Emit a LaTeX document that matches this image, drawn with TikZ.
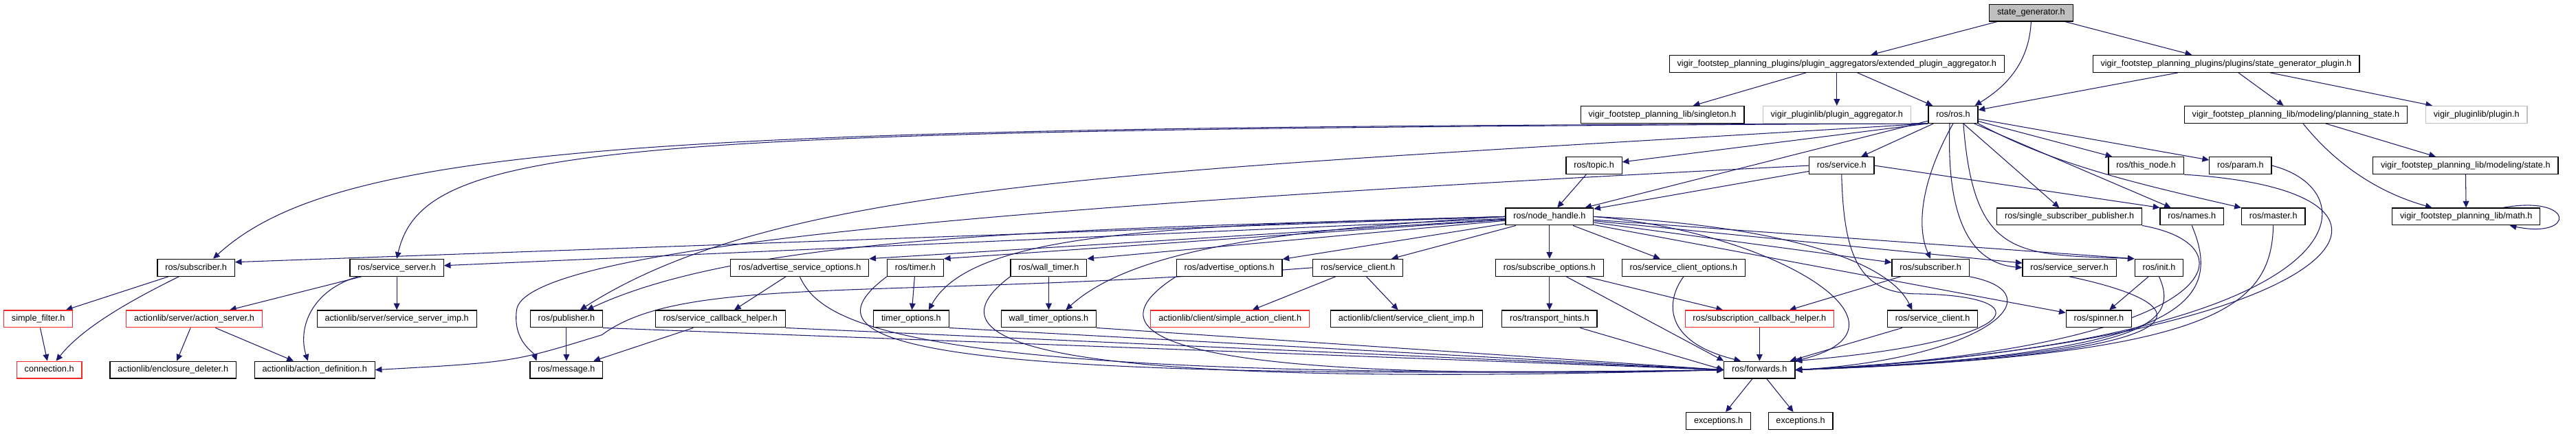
\documentclass[tikz,border=0pt]{standalone}
\usepackage{fontspec}
\setmainfont{Liberation Sans}
\usetikzlibrary{arrows.meta,backgrounds}

\definecolor{inclblue}{RGB}{25,25,112}
\definecolor{truncred}{RGB}{240,40,40}
\definecolor{extgray}{RGB}{191,191,191}

\tikzset{
    hdr/.style={draw, fill=white, line width=0.7pt, rectangle, minimum height=0.5cm,
        inner xsep=6.5pt, inner ysep=0pt, text height=5.4pt, text depth=1.6pt,
        font=\fontsize{7.25}{8.5}\selectfont},
    hdrred/.style={hdr, draw=truncred},
    hdrgray/.style={hdr, draw=extgray},
    incl/.style={draw=inclblue, line width=0.6pt, -{Triangle[length=5.5pt,width=5pt]}}
}

\begin{document}
\begin{tikzpicture}[x=0.02cm, y=-0.02cm]
    % rows 0-2
    \node[hdr, fill=extgray] (sg) at (2969,18.7) {state\_generator.h};
    \node[hdr] (epa) at (2685,93.3) {vigir\_footstep\_planning\_plugins/plugin\_aggregators/extended\_plugin\_aggregator.h};
    \node[hdr] (sgp) at (3254,93.3) {vigir\_footstep\_planning\_plugins/plugins/state\_generator\_plugin.h};
    \node[hdr] (singleton) at (2430,167.7) {vigir\_footstep\_planning\_lib/singleton.h};
    \node[hdrgray] (pluginagg) at (2685,167.7) {vigir\_pluginlib/plugin\_aggregator.h};
    \node[hdr] (rosh) at (2855,167.7) {ros/ros.h};
    \node[hdr] (planstate) at (3356,167.7) {vigir\_footstep\_planning\_lib/modeling/planning\_state.h};
    \node[hdrgray] (pluginh) at (3620,167.7) {vigir\_pluginlib/plugin.h};
    % rows 3-4
    \node[hdr] (topic) at (2330,242.3) {ros/topic.h};
    \node[hdr] (service) at (2692,242.3) {ros/service.h};
    \node[hdr] (thisnode) at (3137,242.3) {ros/this\_node.h};
    \node[hdr] (param) at (3275,242.3) {ros/param.h};
    \node[hdr] (state) at (3604,242.3) {vigir\_footstep\_planning\_lib/modeling/state.h};
    \node[hdr] (nh) at (2265,317) {ros/node\_handle.h};
    \node[hdr] (ssp) at (3025,317) {ros/single\_subscriber\_publisher.h};
    \node[hdr] (names) at (3204,317) {ros/names.h};
    \node[hdr] (master) at (3323,317) {ros/master.h};
    \node[hdr] (math) at (3605,317) {vigir\_footstep\_planning\_lib/math.h};
    % row 5
    \node[hdr] (sub1) at (286.6,391.7) {ros/subscriber.h};
    \node[hdr] (srv1) at (580,391.7) {ros/service\_server.h};
    \node[hdr] (aso) at (1169,391.7) {ros/advertise\_service\_options.h};
    \node[hdr] (timer) at (1338,391.7) {ros/timer.h};
    \node[hdr] (wtimer) at (1533,391.7) {ros/wall\_timer.h};
    \node[hdr] (ao) at (1797,391.7) {ros/advertise\_options.h};
    \node[hdr] (sclient) at (1985,391.7) {ros/service\_client.h};
    \node[hdr] (subopt) at (2265,391.7) {ros/subscribe\_options.h};
    \node[hdr] (scop) at (2461,391.7) {ros/service\_client\_options.h};
    \node[hdr] (sub2) at (2822,391.7) {ros/subscriber.h};
    \node[hdr] (srv2) at (3025,391.7) {ros/service\_server.h};
    \node[hdr] (init) at (3156,391.7) {ros/init.h};
    % row 6
    \node[hdrred] (sfilter) at (56,466.7) {simple\_filter.h};
    \node[hdrred] (aserver) at (284,466.7) {actionlib/server/action\_server.h};
    \node[hdr] (ssimp) at (580,466.7) {actionlib/server/service\_server\_imp.h};
    \node[hdr] (pub) at (828,466.7) {ros/publisher.h};
    \node[hdr] (scbh) at (1053,466.7) {ros/service\_callback\_helper.h};
    \node[hdr] (topts) at (1332,466.7) {timer\_options.h};
    \node[hdr] (wtopts) at (1533,466.7) {wall\_timer\_options.h};
    \node[hdrred] (sac) at (1798,466.7) {actionlib/client/simple\_action\_client.h};
    \node[hdr] (scimp) at (2056,466.7) {actionlib/client/service\_client\_imp.h};
    \node[hdr] (thints) at (2265,466.7) {ros/transport\_hints.h};
    \node[hdrred] (subcbh) at (2572,466.7) {ros/subscription\_callback\_helper.h};
    \node[hdr] (sclient2) at (2825,466.7) {ros/service\_client.h};
    \node[hdr] (spinner) at (3068,466.7) {ros/spinner.h};
    % rows 7-8
    \node[hdrred] (conn) at (72,541.3) {connection.h};
    \node[hdr] (edel) at (253,541.3) {actionlib/enclosure\_deleter.h};
    \node[hdr] (adef) at (460,541.3) {actionlib/action\_definition.h};
    \node[hdr] (msg) at (828,541.3) {ros/message.h};
    \node[hdr] (fwd) at (2572,541.3) {ros/forwards.h};
    \node[hdr] (exca) at (2512,616) {exceptions.h};
    \node[hdr] (excb) at (2632,616) {exceptions.h};

    \begin{scope}[on background layer]
    \fill[white] (0,0) rectangle (3747,635);

    % top
    \draw[incl] (sg) -- (epa);
    \draw[incl] (sg) -- (sgp);
    \draw[incl] (sg.south) .. controls (2966,90) and (2935,125) .. ([xshift=-0.1cm]rosh.north east);
    \draw[incl] (epa) -- (singleton);
    \draw[incl] (epa) -- (pluginagg);
    \draw[incl] (epa) -- (rosh);
    \draw[incl] (sgp) -- (rosh);
    \draw[incl] (sgp) -- (planstate);
    \draw[incl] (sgp) -- (pluginh);
    \draw[incl] (planstate) -- (state);
    \draw[incl] (planstate) .. controls (3410,235) and (3470,280) .. ([xshift=-1cm]math.north);
    \draw[incl] (state) -- (math);
    \draw[incl] ([xshift=-1.1cm]math.north east) .. controls (3765,285) and (3765,350) .. ([xshift=-0.9cm]math.south east);

    % ros/ros.h
    \draw[incl] (rosh.south west) .. controls (1000,185) and (500,205) .. ([xshift=0.5cm]sub1.north);
    \draw[incl] (rosh.south west) .. controls (900,190) and (620,205) .. (srv1.north);
    \draw[incl] (rosh.south west) .. controls (1700,250) and (1150,260) .. ([xshift=0.4cm]pub.north);
    \draw[incl] (rosh.south west) -- (topic);
    \draw[incl] (rosh) -- (service);
    \draw[incl] (rosh) -- (nh);
    \draw[incl] (rosh) -- (ssp);
    \draw[incl] (rosh) -- (thisnode);
    \draw[incl] (rosh) -- (param);
    \draw[incl] (rosh) -- (names);
    \draw[incl] (rosh.south east) .. controls (3000,240) and (3120,268) .. (master.north west);
    \draw[incl] (rosh.south) .. controls (2810,260) and (2800,330) .. (sub2.north);
    \draw[incl] ([xshift=-0.1cm]rosh.south) .. controls (2845,320) and (2880,385) .. (srv2.west);
    \draw[incl] ([xshift=0.3cm]rosh.south) .. controls (2885,380) and (2950,372) .. (init.north west);

    % ros/service.h, ros/topic.h
    \draw[incl] (service) -- (nh);
    \draw[incl] (service.east) -- (names.north west);
    \draw[incl] (service.west) .. controls (1500,300) and (760,360) .. (755,455) .. controls (750,500) and (780,515) .. ([xshift=0.2cm]msg.north west);
    \draw[incl] (service.south) .. controls (2695,380) and (2720,428) .. (2800,430) .. controls (2990,432) and (2960,500) .. (fwd.north east);
    \draw[incl] (topic) -- (nh);

    % ros/node_handle.h
    \foreach \dst in {srv1,sclient,subopt,scop,sub2,srv2,spinner,ao}
        \draw[incl] (nh) -- (\dst);
    \draw[incl] (nh.west) -- ([yshift=-0.1cm]sub1.north east);
    \draw[incl] (nh) -- (aso.north east);
    \draw[incl] (nh) -- (timer.north east);
    \draw[incl] (nh) -- (wtimer.north east);
    \draw[incl] (nh) -- (init.north west);
    \draw[incl] (nh.west) .. controls (1700,330) and (1420,340) .. ([xshift=-0.6cm]topts.north east);
    \draw[incl] (nh.west) .. controls (1900,335) and (1660,360) .. ([xshift=0.5cm]wtopts.north);
    \draw[incl] (nh.west) .. controls (1600,335) and (1100,340) .. ([xshift=0.6cm]pub.north);
    \draw[incl] (nh.east) .. controls (2600,330) and (2760,380) .. ([xshift=-0.6cm]sclient2.north);
    \draw[incl] (nh.east) .. controls (2600,340) and (2820,480) .. (fwd.north east);

    % lower rows
    \draw[incl] (sub1) -- (sfilter);
    \draw[incl] ([xshift=-0.5cm]sub1.south) .. controls (190,440) and (120,480) .. ([xshift=0.2cm]conn.north);
    \draw[incl] (sfilter) -- (conn);
    \draw[incl] (srv1) -- (aserver);
    \draw[incl] (srv1) -- (ssimp);
    \draw[incl] ([xshift=0.25cm]srv1.south west) .. controls (455,425) and (435,480) .. ([xshift=-0.2cm]adef.north);
    \draw[incl] (aserver) -- (edel);
    \draw[incl] (aserver) -- (adef);
    \draw[incl] (aso) -- (scbh);
    \draw[incl] (pub) -- (msg);
    \draw[incl] (scbh) -- (msg);
    \draw[incl] (timer) -- (topts);
    \draw[incl] (wtimer) -- (wtopts);
    \draw[incl] (sclient) -- (sac);
    \draw[incl] (sclient) -- (scimp);
    \draw[incl] (sclient.west) .. controls (1300,440) and (1000,400) .. (880,490) .. controls (750,530) .. (adef.east);
    \draw[incl] (subopt) -- (thints);
    \draw[incl] (subopt) -- (subcbh);
    \draw[incl] (sub2) -- (subcbh);
    \draw[incl] (init) -- (spinner);

    % into ros/forwards.h
    \foreach \src in {pub,scbh,topts,wtopts}
        \draw[incl] (\src.south east) -- (fwd.west);
    \draw[incl] (aso.south) .. controls (1200,470) and (1300,560) .. (fwd.west);
    \draw[incl] (timer.south west) .. controls (1170,500) and (1300,560) .. (fwd.west);
    \draw[incl] (wtimer.south west) .. controls (1350,500) and (1500,570) .. (fwd.west);
    \draw[incl] (ao.south west) .. controls (1570,500) and (1750,560) .. (fwd.west);
    \draw[incl] (thints) -- (fwd.west);
    \draw[incl] (subopt) -- (fwd.north west);
    \draw[incl] (scop.south) .. controls (2435,440) and (2430,500) .. ([xshift=0.5cm]fwd.north west);
    \draw[incl] (subcbh) -- (fwd);
    \draw[incl] (sclient2) -- (fwd);
    \draw[incl] (sub2.south east) .. controls (3010,430) and (2900,525) .. (fwd.east);
    \draw[incl] (srv2.south) .. controls (3240,450) and (3230,520) .. (fwd.east);
    \draw[incl] (init.south) .. controls (3190,480) and (3120,520) .. (fwd.east);
    \draw[incl] (ssp.south east) .. controls (3300,360) and (3250,510) .. (fwd.east);
    \draw[incl] (names.south) .. controls (3250,440) and (3200,520) .. (fwd.east);
    \draw[incl] (master.south) .. controls (3320,450) and (3240,520) .. (fwd.east);
    \draw[incl] (thisnode.south east) .. controls (3600,280) and (3440,500) .. (fwd.east);
    \draw[incl] (param.east) .. controls (3470,280) and (3460,500) .. (fwd.east);
    \draw[incl] (fwd) -- (exca);
    \draw[incl] (fwd) -- (excb);
    \end{scope}
\end{tikzpicture}
\end{document}
